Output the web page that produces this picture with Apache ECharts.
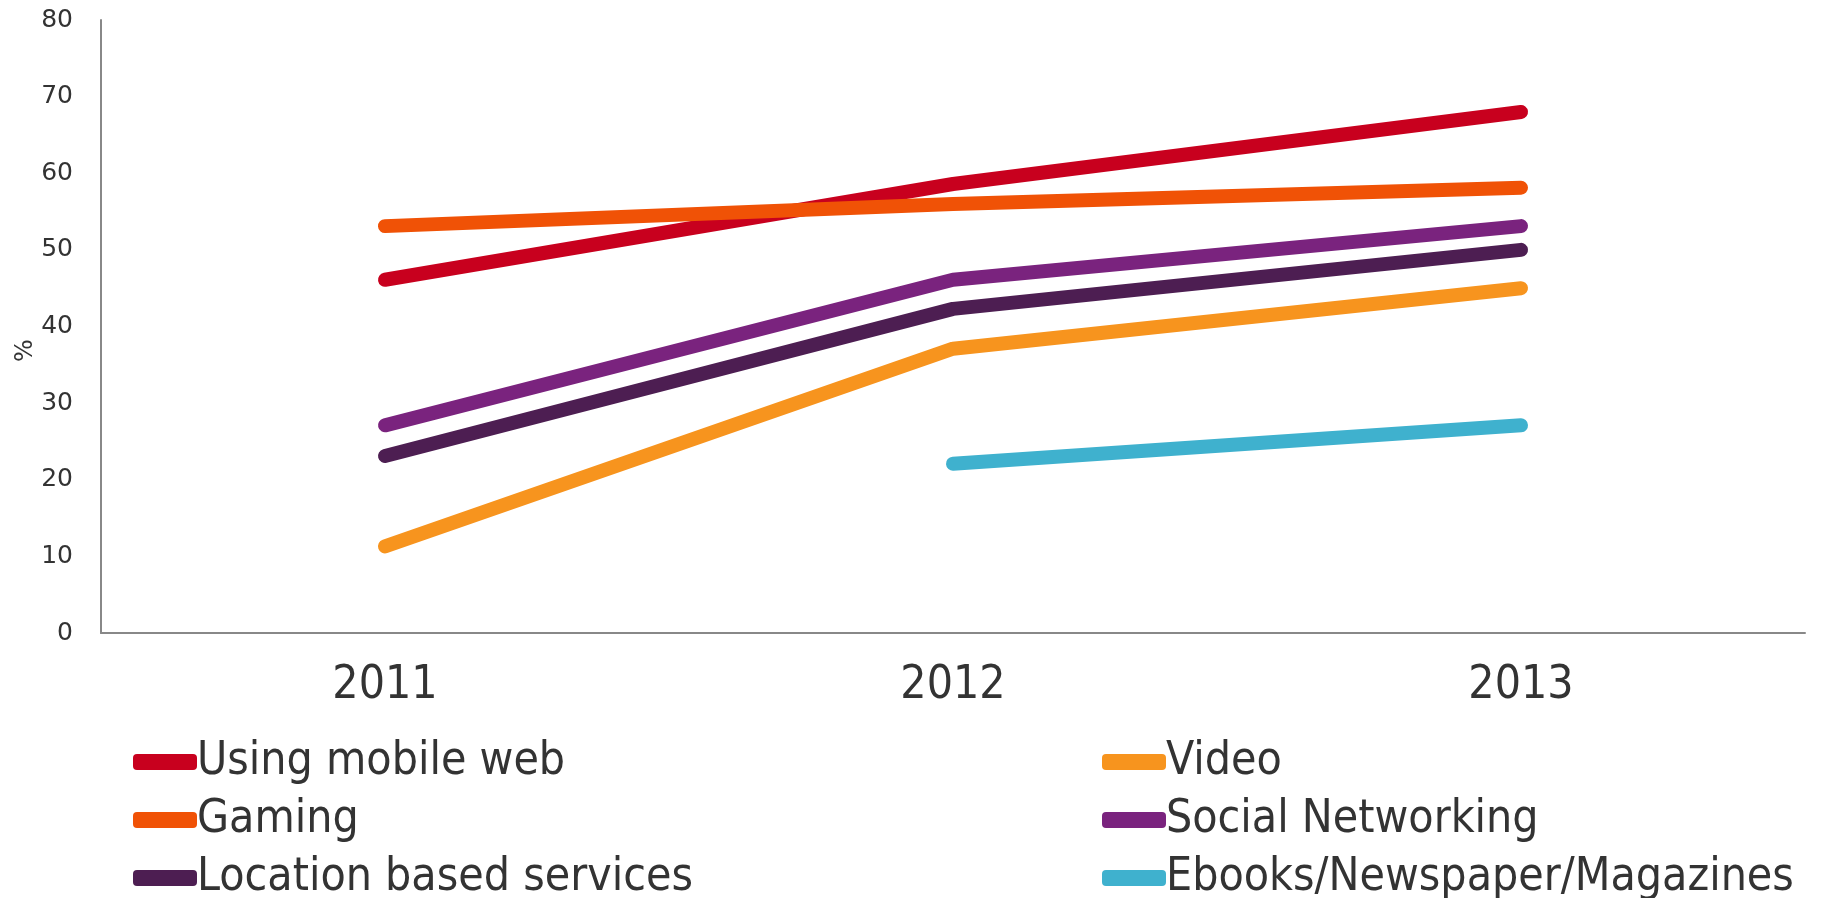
<!DOCTYPE html>
<html><head><meta charset="utf-8">
<script src="https://cdn.jsdelivr.net/npm/echarts@6/dist/echarts.min.js"></script>
<style>html,body{margin:0;padding:0;background:#fff}#c{width:1828px;height:898px}</style>
</head><body><div id="c"></div>
<script>
const categories = ['2011', '2012', '2013'];
const yTicks = [0, 10, 20, 30, 40, 50, 60, 70, 80];
const seriesNames = ['Using mobile web', 'Gaming', 'Location based services', 'Video', 'Social Networking', 'Ebooks/Newspaper/Magazines'];
const mobileWeb = [46.1, 58.6, 68.0];
const gaming = [53.1, 56.0, 58.1];
const locationBased = [23.1, 42.3, 50.0];
const video = [11.3, 37.1, 45.0];
const socialNetworking = [27.1, 46.1, 53.1];
const ebooks = [null, 22.1, 27.1];
const colors = ['#C8001E', '#F05206', '#4D1E52', '#F7941E', '#7A237E', '#3FB1CE'];

const values = [mobileWeb, gaming, locationBased, video, socialNetworking, ebooks];
const condensed = '"DejaVu Sans Condensed", "Liberation Sans Narrow", "DejaVu Sans", sans-serif';
const chart = echarts.init(document.getElementById('c'), null, {renderer: 'canvas'});
const legendCommon = {
  orient: 'vertical', itemWidth: 64, itemHeight: 16, itemGap: 12,
  height: 170, width: 700,
  icon: 'roundRect',
  textStyle: {fontFamily: condensed, fontSize: 46, lineHeight: 46, color: '#333333', padding: [0,0,0,-5]}
};
chart.setOption({
  animation: false,
  color: colors,
  grid: {left: 101, right: 23, top: 20, bottom: 265, containLabel: false, outerBoundsMode: 'none'},
  legend: [
    Object.assign({left: 128, top: 734, data: seriesNames.slice(0, 3)}, legendCommon),
    Object.assign({left: 1097, top: 734, data: seriesNames.slice(3)}, legendCommon)
  ],
  xAxis: {
    type: 'category', data: categories, boundaryGap: true,
    axisLine: {lineStyle: {color: '#888888', width: 2}},
    axisTick: {show: false},
    axisLabel: {fontFamily: condensed, fontSize: 46, color: '#333333', margin: 30}
  },
  yAxis: {
    type: 'value', min: 0, max: 80, interval: 10,
    name: '%', nameLocation: 'middle', nameGap: 63, nameRotate: 90, nameMoveOverlap: false,
    nameTextStyle: {fontFamily: '"DejaVu Sans", sans-serif', fontSize: 24, color: '#333333', padding: [0, 48, 0, 0]},
    axisLine: {show: true, lineStyle: {color: '#888888', width: 2}},
    axisTick: {show: false},
    splitLine: {show: false},
    axisLabel: {fontFamily: '"DejaVu Sans", sans-serif', fontSize: 25, color: '#333333', margin: 28,
      formatter: v => yTicks.includes(v) ? String(v) : ''}
  },
  series: seriesNames.map((n, i) => ({
    name: n, type: 'line', data: values[i], symbol: 'none', connectNulls: false,
    lineStyle: {width: 14, cap: 'round', join: 'round', color: colors[i]},
    itemStyle: {color: colors[i]}
  }))
});
</script></body></html>
